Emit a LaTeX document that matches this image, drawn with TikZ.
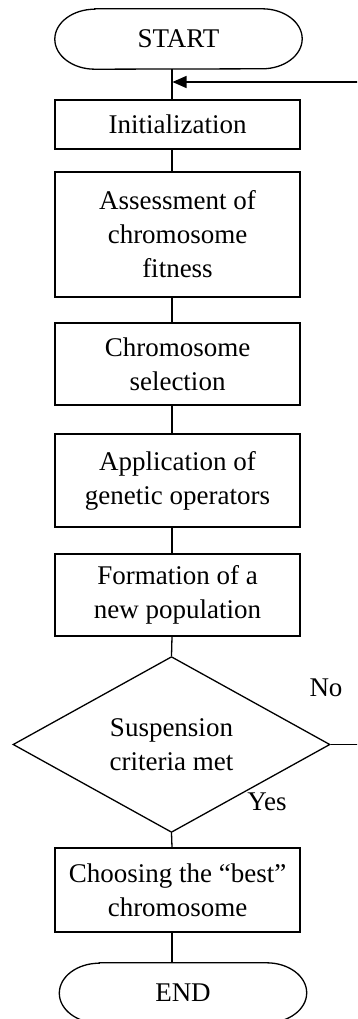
\documentclass[tikz,border=0pt]{standalone}
\usepackage{fontspec}
\setmainfont{Liberation Serif}
\usetikzlibrary{shapes.geometric,arrows.meta}
\tikzset{
  txt/.style={font=\fontsize{27pt}{34pt}\selectfont, align=center, text=black},
  procbox/.style={txt, draw=black, line width=1.3pt, minimum width=245pt, inner sep=0pt},
  termbox/.style={txt, minimum width=247pt, minimum height=60pt, inner sep=0pt},
  decbox/.style={txt, draw=black, line width=1.3pt, shape=diamond, minimum width=317pt, minimum height=141pt, inner sep=0pt},
  conn/.style={draw=black, line width=1.3pt},
  lbl/.style={txt, inner sep=0pt},
}
\begin{document}
\begin{tikzpicture}[x=1pt,y=-1pt]
\useasboundingbox (0,0) rectangle (357,1019);
\clip (0,0) rectangle (357,1019);
\fill[white] (0,0) rectangle (357,1019);
\coordinate (axis) at (172,0);
\coordinate (fb) at (372,0);
\coordinate (loop) at (172.5,82);

\node[termbox] (start) at (178.5,39) {START};
\node[procbox, minimum height=49pt] (init) at (177.5,124.5) {Initialization};
\node[procbox, minimum height=125pt] (assess) at (177.5,234.5) {Assessment of\\chromosome\\fitness};
\node[procbox, minimum height=82pt] (select) at (177.5,364) {Chromosome\\selection};
\node[procbox, minimum height=93pt] (apply) at (177.5,480.5) {Application of\\genetic operators};
\node[procbox, minimum height=82pt] (form) at (177.5,595) {Formation of a\\new population};
\node[decbox] (diam) at (171.5,744.5) {Suspension\\criteria met};
\node[procbox, minimum height=84pt] (choose) at (177.5,890) {Choosing the “best”\\chromosome};
\node[termbox] (end) at (183,993) {END};
\node[lbl] (no) at (326,688) {No};
\node[lbl] (yes) at (267,802) {Yes};

% terminator outlines with elliptical ends
\foreach \t in {start,end}{
  \draw[conn] ([xshift=40pt]\t.north west) -- ([xshift=-40pt]\t.north east)
    arc[start angle=90,end angle=-90,x radius=40pt,y radius=30pt]
    -- ([xshift=40pt]\t.south west)
    arc[start angle=270,end angle=90,x radius=40pt,y radius=30pt] -- cycle;
}

\draw[conn] (start.south -| axis) -- (init.north -| axis);
\draw[conn] (init.south -| axis) -- (assess.north -| axis);
\draw[conn] (assess.south -| axis) -- (select.north -| axis);
\draw[conn] (select.south -| axis) -- (apply.north -| axis);
\draw[conn] (apply.south -| axis) -- (form.north -| axis);
\draw[conn] (form.south -| axis) -- (diam.north);
\draw[conn] (diam.south) -- (choose.north -| axis);
\draw[conn] (choose.south -| axis) -- (end.north -| axis);
\draw[conn, -{Triangle[length=14pt,width=12pt]}] (diam.east) -- (diam.east -| fb) -- (fb |- loop) -- (loop);
\end{tikzpicture}
\end{document}
